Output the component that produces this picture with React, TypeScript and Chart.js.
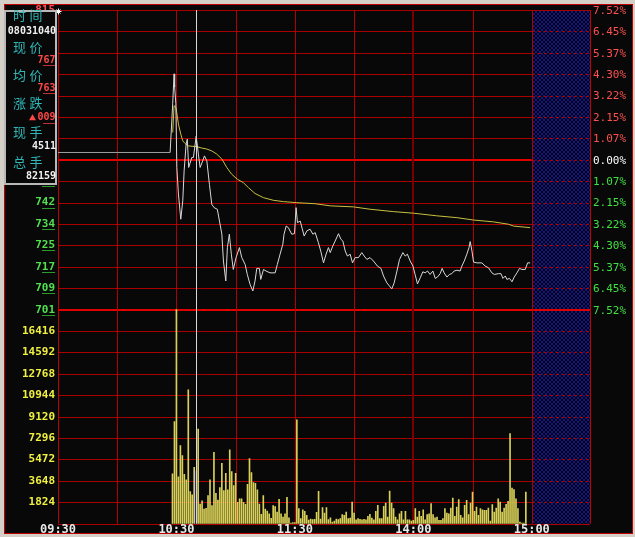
import React, { useEffect, useRef } from 'react';
import { Chart, registerables } from 'chart.js';

Chart.register(...registerables);

// ---------- data ----------
const PRICE_MAX = 815;
const PRICE_MIN = 701;
const VOL_TOP = 18240;
const CURSOR_MINUTE = 70; // 10:40

const timeLabels = ['09:30', '10:30', '11:30', '14:00', '15:00'];
const timeLabelMinutes = [0, 60, 120, 180, 240];

const priceTickLabels = ['815', '807', '799', '791', '782', '774', '766', '758', '750', '742', '734', '725', '717', '709', '701'];
const percentTickLabels = ['7.52%', '6.45%', '5.37%', '4.30%', '3.22%', '2.15%', '1.07%', '0.00%', '1.07%', '2.15%', '3.22%', '4.30%', '5.37%', '6.45%', '7.52%'];
const volumeTickLabels = ['1824', '3648', '5472', '7296', '9120', '10944', '12768', '14592', '16416'];

const infoLabels = ['时间', '现价', '均价', '涨跌', '现手', '总手'];
const infoValues = ['08031040', '767', '763', '009', '4511', '82159'];

// price line (minutes after 09:30, price)
const priceMinutes = [0, 56.8, 58.1, 58.8, 59.1, 59.7, 60.2, 61.0, 62.2, 63.2, 63.9, 64.9, 65.5, 66.2, 67.8, 68.6, 70, 71.1, 72.0, 73.3, 74.2, 75.4, 76.7, 77.9, 79.1, 80.7, 81.8, 83.0, 83.8, 85.0, 85.8, 86.8, 87.8, 88.8, 90.2, 91.9, 93.1, 94.8, 95.9, 97.3, 98.7, 99.8, 100.7, 102.0, 102.7, 104.1, 105.4, 107.4, 110.0, 111.1, 112.5, 113.9, 114.5, 115.6, 116.7, 118.4, 119.8, 120.6, 121.3, 122.7, 124.7, 126.1, 127.7, 129.1, 130.3, 131.9, 133.1, 134.5, 135.8, 137.0, 137.9, 139.2, 140.4, 142.1, 143.3, 144.3, 145.5, 146.6, 148.0, 149.2, 150.5, 152.2, 153.9, 155.1, 156.5, 158.1, 159.8, 161.8, 163.6, 164.9, 166.6, 167.9, 169.1, 170.3, 171.7, 173.0, 174.7, 175.9, 177.0, 178.4, 179.8, 180.9, 182.1, 183.5, 184.8, 186.0, 187.2, 188.5, 189.9, 191.1, 192.2, 193.6, 194.6, 195.6, 197.0, 198.3, 199.5, 200.7, 202.1, 203.7, 204.6, 205.8, 207.1, 208.2, 208.8, 209.7, 210.5, 212.2, 214.7, 216.4, 218.1, 219.8, 221.0, 223.2, 224.4, 225.4, 226.6, 227.4, 228.7, 230.0, 231.1, 232.5, 233.8, 235.0, 236.7, 237.9, 239.2];
const priceValues = [760.8, 760.8, 779.3, 790.7, 785.6, 779.3, 755.1, 745.0, 735.4, 742.4, 753.8, 764.0, 765.9, 755.1, 758.9, 758.9, 767, 760.2, 755.1, 757.6, 759.5, 757.6, 748.7, 741.1, 739.8, 739.2, 734.7, 729.7, 719.5, 711.9, 724.6, 729.7, 722.1, 716.3, 720.8, 724.6, 720.8, 718.2, 714.4, 710.6, 708.1, 711.9, 716.7, 716.7, 712.5, 716.3, 715.7, 715.0, 715.0, 718.2, 722.1, 725.9, 729.7, 732.8, 732.2, 729.7, 729.9, 739.8, 734.1, 734.7, 729.0, 731.0, 731.6, 729.7, 730.3, 726.5, 723.3, 718.8, 722.1, 724.6, 722.7, 725.2, 727.1, 729.9, 727.8, 727.1, 723.3, 721.4, 722.1, 718.8, 720.8, 720.8, 722.7, 721.4, 720.1, 720.8, 719.5, 717.6, 716.7, 713.8, 711.2, 710.0, 708.9, 711.2, 715.7, 720.1, 722.7, 721.4, 722.1, 719.5, 717.6, 714.4, 710.8, 713.1, 715.4, 715.0, 715.7, 714.4, 715.7, 712.9, 713.4, 714.7, 716.7, 715.0, 713.4, 714.4, 714.7, 715.7, 716.0, 715.7, 717.6, 719.5, 722.1, 724.6, 726.9, 723.3, 719.1, 718.8, 718.8, 717.6, 716.9, 715.0, 714.4, 714.7, 714.7, 712.9, 713.8, 712.5, 712.9, 711.6, 713.4, 715.0, 716.7, 716.3, 716.3, 718.8, 718.8];

// average price line
const avgMinutes = [58.1, 58.8, 59.8, 61.0, 62.2, 63.2, 64.4, 66.0, 70.3, 72.8, 75.4, 77.9, 80.4, 83.0, 85.5, 88.0, 90.9, 93.9, 96.5, 99.8, 104.1, 109.1, 114.2, 121.0, 130.3, 137.9, 149.7, 158.1, 169.9, 180.1, 191.9, 202.1, 210.5, 220.6, 228.2, 230.8, 239.2];
const avgValues = [768.4, 778.6, 777.9, 771.6, 767.8, 765.2, 764.2, 763.3, 763.0, 762.5, 762.1, 761.4, 760.2, 758.3, 755.1, 752.5, 750.6, 749.3, 747.4, 745.2, 743.6, 742.6, 742.1, 741.7, 741.3, 740.5, 740.1, 739.2, 738.3, 737.7, 736.7, 736.0, 735.1, 734.4, 733.5, 732.8, 732.2];

// per-minute volume, first bar at minute 58
const VOLUME_START_MINUTE = 58;
const volumes = [
  4240, 8700, 18240, 4000, 6650, 5800, 4215, 3730, 11400, 2730,
  2450, 4810, 4511, 8060, 1680, 1940, 1250, 1310, 2390, 3730,
  1540, 6090, 2590, 2020, 3070, 5150, 2820, 4300, 2880, 6290,
  4440, 3240, 4300, 1830, 2110, 2110, 1830, 1660, 3360, 5550,
  4350, 3500, 3450, 2880, 1680, 800, 2390, 1250, 1080, 850,
  460, 1540, 1450, 990, 2080, 850, 570, 850, 2250, 510,
  50, 100, 100, 8850, 1280, 430, 1190, 1050, 720, 300,
  400, 350, 370, 970, 2760, 400, 1370, 910, 1370, 350,
  510, 140, 230, 400, 350, 430, 770, 710, 1000, 430,
  480,
  1850, 910, 340, 430, 370, 340, 370, 340, 630, 800,
  480, 340, 1050, 1560, 430, 430, 1480, 1760, 570, 2790,
  1760, 1280, 570, 340, 850, 1050, 340, 1050, 340, 340,
  230, 280, 1280, 570, 1050, 630, 1190, 340, 770, 850,
  1710, 770, 510, 570, 280, 280, 430, 1280, 910, 850,
  1340, 2190, 630, 1420, 2050, 710, 510, 1560, 1990, 770,
  1760, 2700, 1050, 1420, 710, 1280, 1190, 1140, 1140, 1340,
  230, 1620, 1000, 1340, 2130, 1850, 1000, 1340, 1650, 1900,
  7680, 3040, 2900, 2130, 1280, 140, 60, 60, 2700,
];

// ---------- drawing helpers ----------
const MONO = '"DejaVu Sans Mono", "Liberation Mono", monospace';
const CJK = '"Noto Sans CJK SC", "Noto Sans", sans-serif';

function makeHatch(): CanvasPattern | string {
  const c = document.createElement('canvas');
  c.width = 4;
  c.height = 4;
  const g = c.getContext('2d');
  if (!g) return '#000030';
  g.fillStyle = '#000006';
  g.fillRect(0, 0, 4, 4);
  g.fillStyle = '#14148c';
  for (let i = 0; i < 4; i++) {
    g.fillRect(i, i, 1, 1);
    g.fillRect(3 - i, i, 1, 1);
  }
  const p = g.createPattern(c, 'repeat');
  return p || '#000030';
}

function underlined(ctx: CanvasRenderingContext2D, text: string, xr: number, yc: number, color: string, ul: string) {
  ctx.textAlign = 'right';
  ctx.textBaseline = 'middle';
  ctx.fillStyle = color;
  ctx.fillText(text, xr, yc);
  const cw = ctx.measureText(text).width / text.length;
  ctx.fillStyle = ul;
  ctx.fillRect(Math.round(xr - 2 * cw), Math.round(yc + 5), Math.round(2 * cw), 1);
}

const stockPlugin = {
  id: 'stockPlugin',
  beforeDraw(chart: any) {
    const ctx: CanvasRenderingContext2D = chart.ctx;
    const { left, right, top, bottom } = chart.chartArea;
    const xs = chart.scales.x;
    const yP = chart.scales.yP;
    const yV = chart.scales.yV;
    const W = chart.width;
    const H = chart.height;
    ctx.save();
    // window background and black panel
    ctx.fillStyle = '#d4d0c8';
    ctx.fillRect(0, 0, W, H);
    ctx.fillStyle = '#080808';
    ctx.fillRect(4, 4, 629, 530);
    ctx.strokeStyle = '#c00000';
    ctx.lineWidth = 1;
    ctx.strokeRect(4.5, 4.5, 628, 529);

    const x15 = xs.getPixelForValue(240);
    // hatch region after 15:00
    ctx.fillStyle = makeHatch();
    ctx.fillRect(x15, top, right - x15, bottom - top);

    const hLine = (y: number, thick: boolean, fullSolid: boolean) => {
      const yy = thick ? Math.round(y) : Math.round(y) + 0.5;
      ctx.lineWidth = thick ? 2 : 1;
      ctx.strokeStyle = thick ? '#e00000' : '#a80000';
      ctx.setLineDash([]);
      ctx.beginPath();
      ctx.moveTo(left, yy);
      ctx.lineTo(fullSolid ? right : x15, yy);
      ctx.stroke();
      if (!fullSolid) {
        ctx.lineWidth = 1;
        ctx.strokeStyle = '#b00000';
        ctx.setLineDash([3, 3]);
        ctx.beginPath();
        ctx.moveTo(x15, Math.round(y) + 0.5);
        ctx.lineTo(right, Math.round(y) + 0.5);
        ctx.stroke();
        ctx.setLineDash([]);
      }
    };

    const step = (PRICE_MAX - PRICE_MIN) / 14;
    for (let i = 0; i <= 14; i++) {
      const y = yP.getPixelForValue(PRICE_MAX - i * step);
      if (i === 0) hLine(y, false, true);
      else if (i === 7) hLine(y, true, false);
      else if (i === 14) hLine(y, true, true);
      else hLine(y, false, false);
    }
    for (let k = 1; k <= volumeTickLabels.length; k++) {
      hLine(yV.getPixelForValue(VOL_TOP / 10 * k), false, false);
    }
    hLine(yV.getPixelForValue(0), false, true);

    // vertical grid lines every 30 minutes
    for (let m = 30; m <= 240; m += 30) {
      const x = xs.getPixelForValue(m);
      if (m === 180) {
        ctx.strokeStyle = '#7a0000';
        ctx.lineWidth = 2;
        ctx.beginPath();
        ctx.moveTo(Math.round(x), top);
        ctx.lineTo(Math.round(x), bottom);
        ctx.stroke();
      } else {
        ctx.strokeStyle = '#b00000';
        ctx.lineWidth = 1;
        ctx.beginPath();
        ctx.moveTo(Math.round(x) + 0.5, top);
        ctx.lineTo(Math.round(x) + 0.5, bottom);
        ctx.stroke();
      }
    }
    ctx.strokeStyle = '#c00000';
    ctx.lineWidth = 1;
    ctx.beginPath();
    ctx.moveTo(Math.round(left) + 0.5, top);
    ctx.lineTo(Math.round(left) + 0.5, bottom);
    ctx.moveTo(Math.round(right) + 0.5, top);
    ctx.lineTo(Math.round(right) + 0.5, bottom);
    ctx.stroke();
    ctx.restore();
  },
  afterDatasetsDraw(chart: any) {
    const ctx: CanvasRenderingContext2D = chart.ctx;
    const { left, right, top, bottom } = chart.chartArea;
    const xs = chart.scales.x;
    const yP = chart.scales.yP;
    const yV = chart.scales.yV;
    ctx.save();

    // cursor line
    const cx = Math.round(xs.getPixelForValue(CURSOR_MINUTE)) + 0.5;
    ctx.strokeStyle = '#d8d8d8';
    ctx.lineWidth = 1;
    ctx.beginPath();
    ctx.moveTo(cx, top);
    ctx.lineTo(cx, bottom);
    ctx.stroke();

    // left price labels
    ctx.font = `bold 11px ${MONO}`;
    const step = (PRICE_MAX - PRICE_MIN) / 14;
    priceTickLabels.forEach((t, i) => {
      const y = yP.getPixelForValue(PRICE_MAX - i * step);
      const col = i < 7 ? '#ff5050' : i === 7 ? '#f0f0f0' : '#50e050';
      const ul = i < 7 ? '#b03030' : i === 7 ? '#909090' : '#2a9a2a';
      underlined(ctx, t, 55, y, col, ul);
    });
    // volume labels
    ctx.fillStyle = '#f0f040';
    ctx.textAlign = 'right';
    ctx.textBaseline = 'middle';
    volumeTickLabels.forEach((t, k) => {
      ctx.fillText(t, 55, yV.getPixelForValue(VOL_TOP / 10 * (k + 1)));
    });
    // right percent labels
    ctx.font = `11px ${MONO}`;
    ctx.textAlign = 'left';
    percentTickLabels.forEach((t, i) => {
      const y = yP.getPixelForValue(PRICE_MAX - i * step);
      ctx.fillStyle = i < 7 ? '#ff5050' : i === 7 ? '#ffffff' : '#40e040';
      ctx.fillText(t, right + 3, y + 1);
    });
    // time labels
    ctx.font = `bold 12px ${MONO}`;
    ctx.textAlign = 'center';
    ctx.fillStyle = '#e8e8e8';
    timeLabels.forEach((t, i) => {
      ctx.fillText(t, xs.getPixelForValue(timeLabelMinutes[i]), 530);
    });

    // small star icon at plot corner
    ctx.strokeStyle = '#ffffff';
    ctx.lineWidth = 1;
    const sx = left + 0.5, sy = top + 1.5;
    ctx.beginPath();
    ctx.moveTo(sx - 3, sy); ctx.lineTo(sx + 3, sy);
    ctx.moveTo(sx, sy - 3); ctx.lineTo(sx, sy + 3);
    ctx.moveTo(sx - 2, sy - 2); ctx.lineTo(sx + 2, sy + 2);
    ctx.moveTo(sx + 2, sy - 2); ctx.lineTo(sx - 2, sy + 2);
    ctx.stroke();

    // info box
    ctx.fillStyle = '#080808';
    ctx.fillRect(4, 10, 53, 175);
    ctx.strokeStyle = '#b8b8b8';
    ctx.lineWidth = 2;
    ctx.strokeRect(5, 11, 51, 173);

    const labelY = [15, 46.7, 75, 103.3, 131.7, 161.7];
    const valueY = [31.7, 60, 88.3, 117.7, 146.7, 176];
    ctx.font = `13px ${CJK}`;
    ctx.textAlign = 'center';
    ctx.textBaseline = 'middle';
    ctx.fillStyle = '#30b8b8';
    infoLabels.forEach((t, i) => {
      ctx.fillText(t[0], 19.5, labelY[i]);
      ctx.fillText(t[1], 36, labelY[i]);
    });
    ctx.font = `bold 10px ${MONO}`;
    infoValues.forEach((t, i) => {
      const y = valueY[i];
      if (i === 1 || i === 2 || i === 3) {
        underlined(ctx, t, 55.5, y, '#ff4848', '#c03030');
        if (i === 3) {
          ctx.fillStyle = '#ff4848';
          ctx.beginPath();
          ctx.moveTo(32.5, y - 3.5);
          ctx.lineTo(36, y + 2.5);
          ctx.lineTo(29, y + 2.5);
          ctx.closePath();
          ctx.fill();
        }
      } else {
        ctx.textAlign = 'right';
        ctx.fillStyle = '#f0f0f0';
        ctx.fillText(t, 56, y);
      }
    });
    ctx.restore();
  },
};

export default function App() {
  const ref = useRef<HTMLCanvasElement | null>(null);
  useEffect(() => {
    const canvas = ref.current;
    if (!canvas) return;
    const priceData = priceMinutes.map((m, i) => ({ x: m, y: priceValues[i] }));
    const avgData = avgMinutes.map((m, i) => ({ x: m, y: avgValues[i] }));
    const volData = volumes.map((v, i) => ({ x: VOLUME_START_MINUTE + i, y: v }));
    const volColors = volumes.map((_, i) => (VOLUME_START_MINUTE + i === CURSOR_MINUTE ? '#3030ff' : '#d8d058'));
    const step = (PRICE_MAX - PRICE_MIN) / 14;
    const chart = new Chart(canvas, {
      type: 'bar',
      data: {
        datasets: [
          {
            type: 'line',
            label: '现价',
            data: priceData,
            yAxisID: 'yP',
            borderColor: '#d8d8d8',
            borderWidth: 1,
            pointRadius: 0,
            tension: 0,
            segment: { borderColor: (c: any) => (c.p0DataIndex === 0 ? '#a0a0a0' : '#d8d8d8') },
            order: 1,
          } as any,
          {
            type: 'line',
            label: '均价',
            data: avgData,
            yAxisID: 'yP',
            borderColor: '#c8c040',
            borderWidth: 1,
            pointRadius: 0,
            tension: 0,
            order: 2,
          } as any,
          {
            type: 'bar',
            label: '成交量',
            data: volData,
            yAxisID: 'yV',
            backgroundColor: volColors,
            barThickness: 1,
            order: 3,
          } as any,
        ],
      },
      options: {
        responsive: false,
        animation: false,
        devicePixelRatio: 1,
        events: [],
        layout: { padding: { left: 58, right: 45, top: 10, bottom: 13.3 } },
        plugins: { legend: { display: false }, tooltip: { enabled: false } },
        scales: {
          x: { type: 'linear', min: 0, max: 269.5, offset: false, display: false },
          yP: { type: 'linear', min: PRICE_MIN - 10 * step, max: PRICE_MAX, display: false },
          yV: { type: 'linear', min: 0, max: VOL_TOP * 2.4, display: false },
        },
      } as any,
      plugins: [stockPlugin],
    });
    return () => chart.destroy();
  }, []);
  return (
    <div style={{ position: 'fixed', left: 0, top: 0, width: 635, height: 537 }}>
      <canvas ref={ref} width={635} height={537} style={{ display: 'block', width: 635, height: 537 }} />
    </div>
  );
}
